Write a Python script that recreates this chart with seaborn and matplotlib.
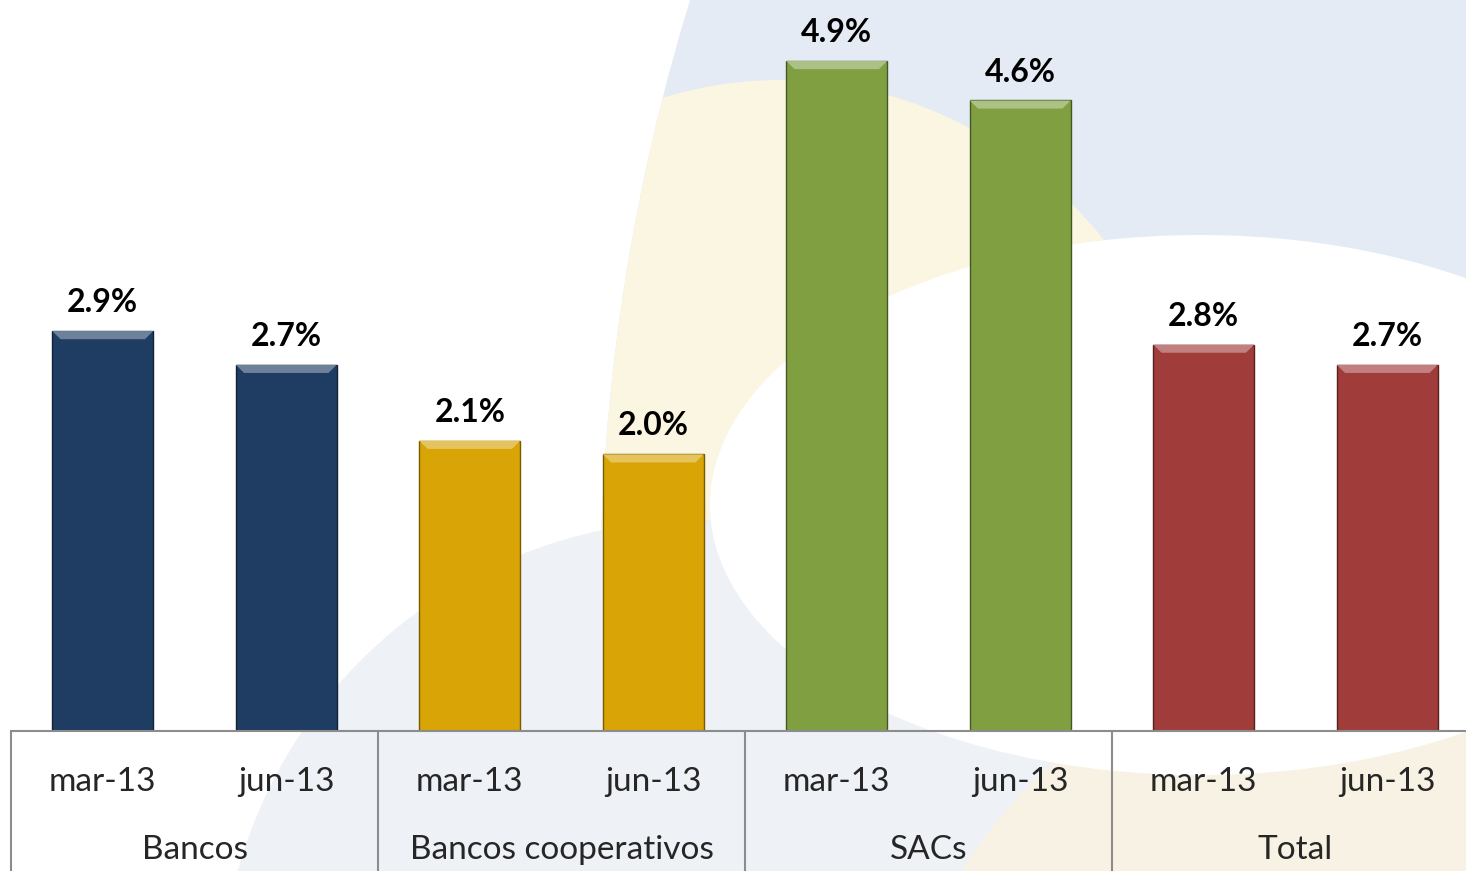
import numpy as np
import pandas as pd
import matplotlib
matplotlib.use("Agg")
import matplotlib.pyplot as plt
import matplotlib.transforms as mtransforms
from matplotlib.patches import Circle, Ellipse
from matplotlib.colors import to_rgb
import seaborn as sns

# data
groups = ["Bancos", "Bancos cooperativos", "SACs", "Total"]
periods = ["mar-13", "jun-13"]
values = [2.949, 2.70, 2.14, 2.04, 4.94, 4.649, 2.849, 2.70]
colors = ["#1F3D63", "#D9A406", "#7F9F41", "#A03C3A"]

df = pd.DataFrame({
    "grupo": np.repeat(groups, len(periods)),
    "periodo": periods * len(groups),
    "valor": values,
})
df["pos"] = [f"{g}|{p}" for g, p in zip(df["grupo"], df["periodo"])]


def mix(c, other, t):
    c, o = np.array(to_rgb(c)), np.array(to_rgb(other))
    return tuple(c * (1 - t) + o * t)


sns.set_style("white")
plt.rcParams["font.family"] = ["Lato", "DejaVu Sans"]

fig = plt.figure(figsize=(14.66, 8.71), dpi=100)

# faint watermark shapes behind the chart
bg = fig.add_axes([0, 0, 1, 1], zorder=-1)
bg.set_xlim(0, 1466)
bg.set_ylim(871, 0)
bg.axis("off")
big = Circle((2645, 600), 2045, color="#E5EBF5", lw=0)
bg.add_patch(big)
yellow = Ellipse((780, 560), 870, 960, color="#FAF6E2", lw=0)
bg.add_patch(yellow)
yellow.set_clip_path(big)
bg.add_patch(Circle((700, 1000), 480, color="#EEF1F6", lw=0))
bg.add_patch(Circle((1400, 1150), 520, color="#F7F2E3", lw=0))
bg.add_patch(Ellipse((1200, 505), 980, 540, color="#FFFFFF", lw=0))

ax = fig.add_axes([11 / 1466, 140 / 871, 1468 / 1466, 731 / 871])
ax.patch.set_alpha(0)

sns.barplot(data=df, x="pos", y="valor", hue="grupo", palette=colors,
            dodge=False, width=0.55, saturation=1, linewidth=1,
            legend=False, ax=ax)

# darker outline plus a light bevel strip on top of each bar
bev_h, bev_w = 0.06, 0.045
for bar in ax.patches:
    fc = bar.get_facecolor()
    bar.set_edgecolor(mix(fc[:3], "black", 0.45))
    x0, w, h = bar.get_x(), bar.get_width(), bar.get_height()
    ax.fill([x0, x0 + w, x0 + w - bev_w, x0 + bev_w],
            [h, h, h - bev_h, h - bev_h],
            color=mix(fc[:3], "white", 0.35), lw=0, zorder=3)

for bar, v in zip(ax.patches, values):
    ax.annotate(f"{v:.1f}%", (bar.get_x() + bar.get_width() / 2, bar.get_height()),
                xytext=(0, 10), textcoords="offset points", ha="center", va="bottom",
                fontsize=23, fontweight="bold", color="black")

ax.set_xlim(-0.5, len(values) - 0.5)
ax.set_ylim(0, 5.39)
ax.set_yticks([])
ax.set_xlabel("")
ax.set_ylabel("")
ax.set_xticks(range(len(values)))
ax.set_xticklabels(df["periodo"], fontsize=24)
ax.tick_params(axis="x", length=0, pad=26)
for s in ["top", "right", "left"]:
    ax.spines[s].set_visible(False)
ax.spines["bottom"].set_color("#8C8C8C")
ax.spines["bottom"].set_linewidth(1.5)

trans = mtransforms.blended_transform_factory(ax.transData, ax.transAxes)
bottom = -140 / 731
for xs in [-0.5, 1.5, 3.5, 5.5]:
    ax.plot([xs, xs], [0, bottom], transform=trans, color="#8C8C8C", lw=1.5,
            clip_on=False)
for i, g in enumerate(groups):
    ax.text(2 * i + 0.5, -119 / 731, g, transform=trans, ha="center", va="center",
            fontsize=24)

fig.savefig("out.png", dpi=100)
